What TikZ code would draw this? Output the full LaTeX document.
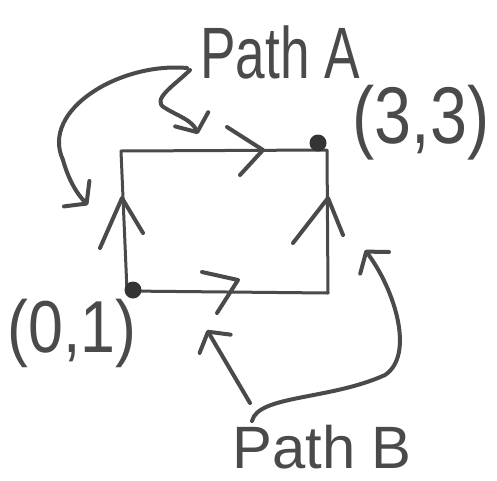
\documentclass[tikz,border=0pt]{standalone}
\usepackage{fontspec}
\setmainfont{Liberation Sans}
\usetikzlibrary{arrows.meta}
\definecolor{pencil}{HTML}{4A4A4A}
\begin{document}
\begin{tikzpicture}[x=1pt,y=-1pt,
  stroke/.style={draw=pencil, line width=4pt, line cap=round, line join=round},
  edgeline/.style={draw=pencil, line width=3pt, line join=round},
  barb/.style={-{Straight Barb[length=14pt,width=36pt,round]}},
  lbl/.style={text=pencil, inner sep=0pt},
  dot/.style={circle, fill=pencil!70!black, minimum size=17pt, inner sep=0pt}]
\useasboundingbox (0,0) rectangle (497,480);
% rectangle corners
\coordinate (tl) at (121,151);
\coordinate (tr) at (327,150);
\coordinate (br) at (328,293);
\coordinate (bl) at (127,291);
\draw[edgeline] (bl) -- (tl) -- (tr) -- (br) -- cycle;
% corner dots
\node[dot] (d3) at (318,143) {};
\node[dot] (d0) at (133,290) {};
% direction chevrons
\draw[stroke] (227,127) -- (263,150) -- (240,175);
\draw[stroke] (100,248) -- (122,198) -- (143,233);
\draw[stroke] (293,243) -- (328,198) -- (343,235);
\draw[stroke] (202,272) -- (238,280) -- (217,313);
% labels
\node[lbl, font=\fontsize{56}{56}\selectfont, xscale=0.95, yscale=1.3] (pa) at (280,52) {Path A};
\node[lbl, font=\fontsize{70}{70}\selectfont, xscale=0.95, yscale=1.15] (p33) at (421,123) {(3,3)};
\node[lbl, font=\fontsize{64}{64}\selectfont, xscale=0.98, yscale=1.15] (p01) at (72,333) {(0,1)};
\node[lbl, font=\fontsize{52}{52}\selectfont, xscale=1.15, yscale=1.15] (pb) at (322,447) {Path B};
% arrow end points
\coordinate (a1s) at (187,68);
\coordinate (a1e) at (88,205);
\coordinate (a2s) at (190,70);
\coordinate (a2e) at (198,134);
\coordinate (b1s) at (250,403);
\coordinate (b1e) at (207,330);
\coordinate (b2s) at (252,421);
\coordinate (b2e) at (365,250);
% connectors
\draw[stroke, barb] (a1s) .. controls (120,62) and (40,110) .. (63,160) .. controls (68,178) and (76,193) .. (a1e);
\draw[stroke, barb] (a2s) .. controls (175,85) and (150,100) .. (165,108) .. controls (178,116) and (192,120) .. (a2e);
\draw[stroke, barb] (b1s) -- (b1e);
\draw[stroke, barb] (b2s) .. controls (258,395) and (330,400) .. (385,375) .. controls (415,355) and (395,290) .. (b2e);
\end{tikzpicture}
\end{document}
